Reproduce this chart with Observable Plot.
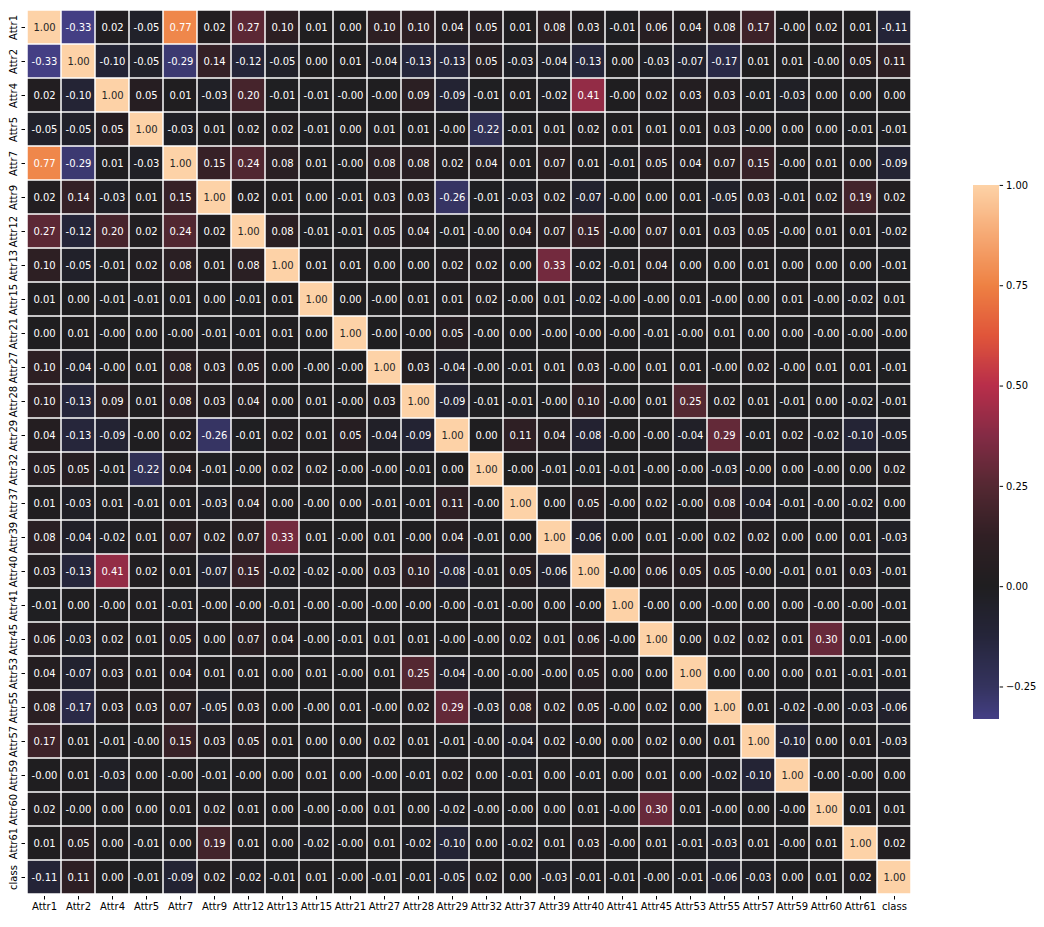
<!DOCTYPE html>
<html>
<head>
<meta charset="utf-8">
<script src="https://cdn.jsdelivr.net/npm/d3@7"></script>
<script src="https://cdn.jsdelivr.net/npm/@observablehq/plot@0.6"></script>
<style>
  html, body { margin: 0; padding: 0; background: white; }
  #wrap { position: relative; width: 1044px; height: 927px; overflow: hidden; }
  #main { position: absolute; left: 0; top: 0; }
  #cbar { position: absolute; left: 973px; top: 180px; }
</style>
</head>
<body>
<div id="wrap"><div id="main"></div><div id="cbar"></div></div>
<script>
const labels = ["Attr1","Attr2","Attr4","Attr5","Attr7","Attr9","Attr12","Attr13","Attr15","Attr21","Attr27","Attr28","Attr29","Attr32","Attr37","Attr39","Attr40","Attr41","Attr45","Attr53","Attr55","Attr57","Attr59","Attr60","Attr61","class"];

const rowAttr1  = [1.00,-0.33,0.02,-0.05,0.77,0.02,0.27,0.10,0.01,0.00,0.10,0.10,0.04,0.05,0.01,0.08,0.03,-0.01,0.06,0.04,0.08,0.17,-0.00,0.02,0.01,-0.11];
const rowAttr2  = [-0.33,1.00,-0.10,-0.05,-0.29,0.14,-0.12,-0.05,0.00,0.01,-0.04,-0.13,-0.13,0.05,-0.03,-0.04,-0.13,0.00,-0.03,-0.07,-0.17,0.01,0.01,-0.00,0.05,0.11];
const rowAttr4  = [0.02,-0.10,1.00,0.05,0.01,-0.03,0.20,-0.01,-0.01,-0.00,-0.00,0.09,-0.09,-0.01,0.01,-0.02,0.41,-0.00,0.02,0.03,0.03,-0.01,-0.03,0.00,0.00,0.00];
const rowAttr5  = [-0.05,-0.05,0.05,1.00,-0.03,0.01,0.02,0.02,-0.01,0.00,0.01,0.01,-0.00,-0.22,-0.01,0.01,0.02,0.01,0.01,0.01,0.03,-0.00,0.00,0.00,-0.01,-0.01];
const rowAttr7  = [0.77,-0.29,0.01,-0.03,1.00,0.15,0.24,0.08,0.01,-0.00,0.08,0.08,0.02,0.04,0.01,0.07,0.01,-0.01,0.05,0.04,0.07,0.15,-0.00,0.01,0.00,-0.09];
const rowAttr9  = [0.02,0.14,-0.03,0.01,0.15,1.00,0.02,0.01,0.00,-0.01,0.03,0.03,-0.26,-0.01,-0.03,0.02,-0.07,-0.00,0.00,0.01,-0.05,0.03,-0.01,0.02,0.19,0.02];
const rowAttr12 = [0.27,-0.12,0.20,0.02,0.24,0.02,1.00,0.08,-0.01,-0.01,0.05,0.04,-0.01,-0.00,0.04,0.07,0.15,-0.00,0.07,0.01,0.03,0.05,-0.00,0.01,0.01,-0.02];
const rowAttr13 = [0.10,-0.05,-0.01,0.02,0.08,0.01,0.08,1.00,0.01,0.01,0.00,0.00,0.02,0.02,0.00,0.33,-0.02,-0.01,0.04,0.00,0.00,0.01,0.00,0.00,0.00,-0.01];
const rowAttr15 = [0.01,0.00,-0.01,-0.01,0.01,0.00,-0.01,0.01,1.00,0.00,-0.00,0.01,0.01,0.02,-0.00,0.01,-0.02,-0.00,-0.00,0.01,-0.00,0.00,0.01,-0.00,-0.02,0.01];
const rowAttr21 = [0.00,0.01,-0.00,0.00,-0.00,-0.01,-0.01,0.01,0.00,1.00,-0.00,-0.00,0.05,-0.00,0.00,-0.00,-0.00,-0.00,-0.01,-0.00,0.01,0.00,0.00,-0.00,-0.00,-0.00];
const rowAttr27 = [0.10,-0.04,-0.00,0.01,0.08,0.03,0.05,0.00,-0.00,-0.00,1.00,0.03,-0.04,-0.00,-0.01,0.01,0.03,-0.00,0.01,0.01,-0.00,0.02,-0.00,0.01,0.01,-0.01];
const rowAttr28 = [0.10,-0.13,0.09,0.01,0.08,0.03,0.04,0.00,0.01,-0.00,0.03,1.00,-0.09,-0.01,-0.01,-0.00,0.10,-0.00,0.01,0.25,0.02,0.01,-0.01,0.00,-0.02,-0.01];
const rowAttr29 = [0.04,-0.13,-0.09,-0.00,0.02,-0.26,-0.01,0.02,0.01,0.05,-0.04,-0.09,1.00,0.00,0.11,0.04,-0.08,-0.00,-0.00,-0.04,0.29,-0.01,0.02,-0.02,-0.10,-0.05];
const rowAttr32 = [0.05,0.05,-0.01,-0.22,0.04,-0.01,-0.00,0.02,0.02,-0.00,-0.00,-0.01,0.00,1.00,-0.00,-0.01,-0.01,-0.01,-0.00,-0.00,-0.03,-0.00,0.00,-0.00,0.00,0.02];
const rowAttr37 = [0.01,-0.03,0.01,-0.01,0.01,-0.03,0.04,0.00,-0.00,0.00,-0.01,-0.01,0.11,-0.00,1.00,0.00,0.05,-0.00,0.02,-0.00,0.08,-0.04,-0.01,-0.00,-0.02,0.00];
const rowAttr39 = [0.08,-0.04,-0.02,0.01,0.07,0.02,0.07,0.33,0.01,-0.00,0.01,-0.00,0.04,-0.01,0.00,1.00,-0.06,0.00,0.01,-0.00,0.02,0.02,0.00,0.00,0.01,-0.03];
const rowAttr40 = [0.03,-0.13,0.41,0.02,0.01,-0.07,0.15,-0.02,-0.02,-0.00,0.03,0.10,-0.08,-0.01,0.05,-0.06,1.00,-0.00,0.06,0.05,0.05,-0.00,-0.01,0.01,0.03,-0.01];
const rowAttr41 = [-0.01,0.00,-0.00,0.01,-0.01,-0.00,-0.00,-0.01,-0.00,-0.00,-0.00,-0.00,-0.00,-0.01,-0.00,0.00,-0.00,1.00,-0.00,0.00,-0.00,0.00,0.00,-0.00,-0.00,-0.01];
const rowAttr45 = [0.06,-0.03,0.02,0.01,0.05,0.00,0.07,0.04,-0.00,-0.01,0.01,0.01,-0.00,-0.00,0.02,0.01,0.06,-0.00,1.00,0.00,0.02,0.02,0.01,0.30,0.01,-0.00];
const rowAttr53 = [0.04,-0.07,0.03,0.01,0.04,0.01,0.01,0.00,0.01,-0.00,0.01,0.25,-0.04,-0.00,-0.00,-0.00,0.05,0.00,0.00,1.00,0.00,0.00,0.00,0.01,-0.01,-0.01];
const rowAttr55 = [0.08,-0.17,0.03,0.03,0.07,-0.05,0.03,0.00,-0.00,0.01,-0.00,0.02,0.29,-0.03,0.08,0.02,0.05,-0.00,0.02,0.00,1.00,0.01,-0.02,-0.00,-0.03,-0.06];
const rowAttr57 = [0.17,0.01,-0.01,-0.00,0.15,0.03,0.05,0.01,0.00,0.00,0.02,0.01,-0.01,-0.00,-0.04,0.02,-0.00,0.00,0.02,0.00,0.01,1.00,-0.10,0.00,0.01,-0.03];
const rowAttr59 = [-0.00,0.01,-0.03,0.00,-0.00,-0.01,-0.00,0.00,0.01,0.00,-0.00,-0.01,0.02,0.00,-0.01,0.00,-0.01,0.00,0.01,0.00,-0.02,-0.10,1.00,-0.00,-0.00,0.00];
const rowAttr60 = [0.02,-0.00,0.00,0.00,0.01,0.02,0.01,0.00,-0.00,-0.00,0.01,0.00,-0.02,-0.00,-0.00,0.00,0.01,-0.00,0.30,0.01,-0.00,0.00,-0.00,1.00,0.01,0.01];
const rowAttr61 = [0.01,0.05,0.00,-0.01,0.00,0.19,0.01,0.00,-0.02,-0.00,0.01,-0.02,-0.10,0.00,-0.02,0.01,0.03,-0.00,0.01,-0.01,-0.03,0.01,-0.00,0.01,1.00,0.02];
const rowClass  = [-0.11,0.11,0.00,-0.01,-0.09,0.02,-0.02,-0.01,0.01,-0.00,-0.01,-0.01,-0.05,0.02,0.00,-0.03,-0.01,-0.01,-0.00,-0.01,-0.06,-0.03,0.00,0.01,0.02,1.00];

const colorbarTicks = [-0.25, 0, 0.25, 0.5, 0.75, 1];
const vmin = -0.332, vmax = 1;

const matrix = [rowAttr1,rowAttr2,rowAttr4,rowAttr5,rowAttr7,rowAttr9,rowAttr12,rowAttr13,rowAttr15,rowAttr21,rowAttr27,rowAttr28,rowAttr29,rowAttr32,rowAttr37,rowAttr39,rowAttr40,rowAttr41,rowAttr45,rowAttr53,rowAttr55,rowAttr57,rowAttr59,rowAttr60,rowAttr61,rowClass];

const data = [];
matrix.forEach((row, i) => row.forEach((v, j) => data.push({row: labels[i], col: labels[j], v})));

const fmt = v => (Object.is(v, -0) ? "-" : "") + v.toFixed(2);

const colorScale = {
  type: "linear",
  domain: [vmin, -0.25, -0.125, 0, 0.125, 0.25, 0.375, 0.5, 0.625, 0.75, 0.875, 1],
  range: ["#443f85", "#34335e", "#25253a", "#1f1e20", "#301f24", "#542832", "#842b45", "#b82e4a", "#e0553a", "#ee8143", "#f6a974", "#fdd2a7"],
  clamp: true
};

const font = {fontFamily: "DejaVu Sans, sans-serif", fontSize: "10px", color: "black", background: "white", overflow: "visible"};

const main = Plot.plot({
  width: 940,
  height: 927,
  marginLeft: 25,
  marginRight: 27,
  marginTop: 8,
  marginBottom: 31,
  style: font,
  x: {domain: labels, padding: 0, label: null},
  y: {domain: labels, padding: 0, label: null},
  color: colorScale,
  marks: [
    Plot.cell(data, {x: "col", y: "row", fill: "v", inset: 0.75}),
    Plot.text(data, {x: "col", y: "row", text: d => fmt(d.v), filter: d => d.v > 0.9, fill: "#262626", fontSize: 10}),
    Plot.text(data, {x: "col", y: "row", text: d => fmt(d.v), filter: d => d.v <= 0.9, fill: "white", fontSize: 10}),
    Plot.axisX({tickSize: 3.5, tickPadding: 3, fontSize: 10, label: null}),
    Plot.axisY({tickSize: 3.5, tickPadding: 5, tickRotate: -90, fontSize: 10, label: null})
  ]
});
document.getElementById("main").appendChild(main);

const N = 542;
const bands = d3.range(N);
const step = (vmax - vmin) / N;
const cbar = Plot.plot({
  width: 72,
  height: 552,
  marginLeft: 0,
  marginRight: 46,
  marginTop: 5,
  marginBottom: 5,
  style: font,
  x: {domain: [0, 1], axis: null},
  y: {domain: [vmin, vmax], label: null},
  color: colorScale,
  marks: [
    Plot.rect(bands, {x1: 0, x2: 1, y1: i => vmin + i * step, y2: i => vmin + (i + 1) * step, fill: i => vmin + (i + 0.5) * step, shapeRendering: "crispEdges"}),
    Plot.axisY({anchor: "right", ticks: colorbarTicks, tickFormat: d3.format(".2f"), tickSize: 3.5, tickPadding: 3.5, fontSize: 10, label: null})
  ]
});
document.getElementById("cbar").appendChild(cbar);
</script>
</body>
</html>
